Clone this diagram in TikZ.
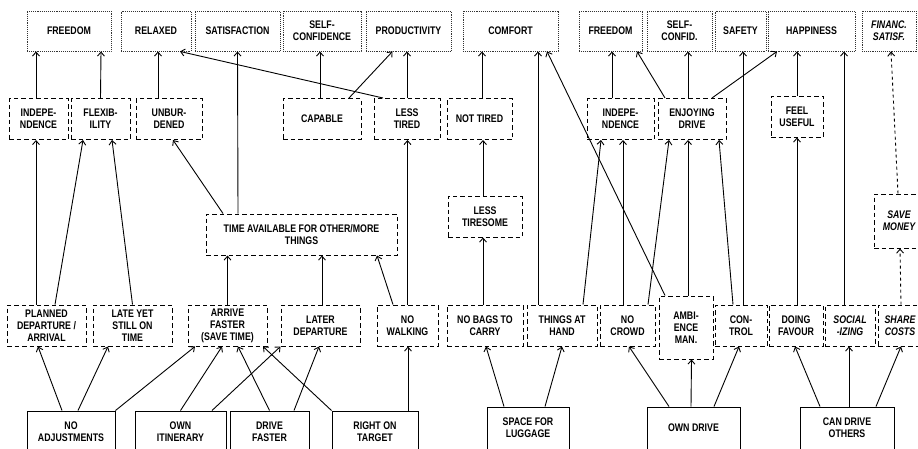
\documentclass[tikz,border=0pt]{standalone}
\usepackage{fontspec}
\setmainfont[FakeStretch=0.8]{Liberation Sans}
\usepackage{tikz}
\usetikzlibrary{arrows.meta,calc}
\usetikzlibrary{positioning}

\begin{document}
\begin{tikzpicture}[
  x=1pt, y=1pt,
  lbl/.style={align=center, inner sep=2pt, font=\fontsize{11}{12}\selectfont\bfseries},
  ital/.style={font=\fontsize{11}{12}\selectfont\bfseries\itshape},
  value/.style={lbl, draw=black!80, densely dotted, line width=0.9pt, minimum height=40pt},
  conseq/.style={lbl, draw, dash pattern=on 4.5pt off 3pt, line width=1pt, minimum height=41pt},
  attr/.style={lbl, draw, line width=1pt, minimum height=42pt},
  arr/.style={-{Straight Barb[length=4pt,width=7pt]}, line width=0.9pt},
  darr/.style={arr, dash pattern=on 3pt off 3pt},
  node distance=80pt
  ]
  \useasboundingbox (0,0) rectangle (918,-448);

  % Values (top row)
  \node[value, minimum width=84pt] (free1) at (69,-31) {FREEDOM};
  \node[value, minimum width=70pt, right of=free1, node distance=87pt] (relax) {RELAXED};
  \node[value, minimum width=85pt, right of=relax, node distance=81.5pt] (satis) {SATISFACTION};
  \node[value, minimum width=78pt, right of=satis, node distance=84.5pt] (selfc1) {SELF-\\CONFIDENCE};
  \node[value, minimum width=85pt, right of=selfc1, node distance=86.5pt] (prod) {PRODUCTIVITY};
  \node[value, minimum width=95pt, right of=prod, node distance=102pt] (comf) {COMFORT};
  \node[value, minimum width=63pt, right of=comf, node distance=100pt] (free2) {FREEDOM};
  \node[value, minimum width=65pt, right of=free2, node distance=69pt] (selfc2) {SELF-\\CONFID.};
  \node[value, minimum width=51pt, right of=selfc2, node distance=61pt] (safe) {SAFETY};
  \node[value, minimum width=87pt, right of=safe, node distance=71pt] (happy) {HAPPINESS};
  \node[value, ital, minimum width=54pt, right of=happy, node distance=77.5pt] (finsat) {FINANC.\\SATISF.};

  % Consequences
  \node[conseq, minimum width=59pt] (indep1) at (38.5,-119) {INDEPE-\\NDENCE};
  \node[conseq, minimum width=59pt, right of=indep1, node distance=62pt] (flex) {FLEXIB-\\ILITY};
  \node[conseq, minimum width=66pt, right of=flex, node distance=68.5pt] (unbur) {UNBUR-\\DENED};
  \node[conseq, minimum width=78pt, right of=unbur, node distance=153pt] (capab) {CAPABLE};
  \node[conseq, minimum width=66pt, right of=capab, node distance=85pt] (lesstired) {LESS\\TIRED};
  \node[conseq, minimum width=65pt, right of=lesstired, node distance=72.5pt] (nottired) {NOT TIRED};
  \node[conseq, minimum width=67pt, right of=nottired, node distance=141pt] (indep2) {INDEPE-\\NDENCE};
  \node[conseq, minimum width=68pt, right of=indep2, node distance=71.5pt] (enjoy) {ENJOYING\\DRIVE};
  \node[conseq, minimum width=52pt, right of=enjoy, node distance=105pt, yshift=2.5pt] (useful) {FEEL\\USEFUL};

  \node[conseq, minimum width=191pt] (timeav) at (301.5,-234.5) {TIME AVAILABLE FOR OTHER/MORE\\THINGS};
  \node[conseq, minimum width=74pt, right of=timeav, node distance=183.5pt, yshift=18pt] (tiresome) {LESS\\TIRESOME};
  \node[conseq, ital, minimum width=50pt, minimum height=54pt, right of=tiresome, node distance=414pt, yshift=-4.5pt] (savemon) {SAVE\\MONEY};

  \node[conseq, minimum width=79pt] (planned) at (46.5,-325.5) {PLANNED\\DEPARTURE /\\ARRIVAL};
  \node[conseq, minimum width=79pt, right of=planned, node distance=86pt] (lateyet) {LATE YET\\STILL ON\\TIME};
  \node[conseq, minimum width=79pt, right of=lateyet, node distance=95pt] (arrive) {ARRIVE\\FASTER\\(SAVE TIME)};
  \node[conseq, minimum width=79pt, right of=arrive, node distance=93pt] (laterdep) {LATER\\DEPARTURE};
  \node[conseq, minimum width=61pt, right of=laterdep, node distance=87pt] (nowalk) {NO\\WALKING};
  \node[conseq, minimum width=76pt, right of=nowalk, node distance=77.5pt] (nobags) {NO BAGS TO\\CARRY};
  \node[conseq, minimum width=70pt, right of=nobags, node distance=77pt] (things) {THINGS AT\\HAND};
  \node[conseq, minimum width=55pt, right of=things, node distance=65.5pt] (nocrowd) {NO\\CROWD};
  \node[conseq, minimum width=54pt, minimum height=63pt, right of=nocrowd, node distance=58.5pt, yshift=-2pt] (ambience) {AMBI-\\ENCE\\MAN.};
  \node[conseq, minimum width=52pt, right of=nocrowd, node distance=113.5pt] (control) {CON-\\TROL};
  \node[conseq, minimum width=54pt, right of=control, node distance=55pt] (favour) {DOING\\FAVOUR};
  \node[conseq, ital, minimum width=50pt, right of=favour, node distance=54pt] (social) {SOCIAL\\-IZING};
  \node[conseq, ital, minimum width=44pt, right of=social, node distance=50pt] (share) {SHARE\\COSTS};

  % Attributes
  \node[attr, minimum width=88pt] (noadj) at (71,-432) {NO\\ADJUSTMENTS};
  \node[attr, minimum width=91pt, right of=noadj, node distance=109.5pt] (ownitin) {OWN\\ITINERARY};
  \node[attr, minimum width=79pt, right of=ownitin, node distance=89pt] (drivefast) {DRIVE\\FASTER};
  \node[attr, minimum width=86pt, right of=drivefast, node distance=105.5pt] (target) {RIGHT ON\\TARGET};
  \node[attr, minimum width=82pt, right of=target, node distance=153pt, yshift=4pt] (luggage) {SPACE FOR\\LUGGAGE};
  \node[attr, minimum width=93pt, right of=luggage, node distance=165.5pt] (owndrive) {OWN DRIVE};
  \node[attr, minimum width=94pt, right of=owndrive, node distance=153.5pt] (candrive) {CAN DRIVE\\OTHERS};

  % Connections to values
  \draw[arr] ([xshift=-2.5pt]indep1.north) -- ([xshift=-33pt]free1.south);
  \draw[arr] (flex.north) -- ([xshift=32pt]free1.south);
  \draw[arr] ([xshift=-11pt]unbur.north) -- ([xshift=2pt]relax.south);
  \draw[arr] ([xshift=-24pt]lesstired.north) -- ([xshift=24pt]relax.south);
  \draw[arr] ([xshift=-63.5pt]timeav.north) -- (satis.south);
  \draw[arr] ([xshift=-2pt]capab.north) -- ([xshift=-2pt]selfc1.south);
  \draw[arr] ([xshift=27pt]capab.north) -- ([xshift=-16pt]prod.south);
  \draw[arr] (lesstired.north) -- ([xshift=-1.5pt]prod.south);
  \draw[arr] ([xshift=2.5pt]nottired.north) -- ([xshift=-28.5pt]comf.south);
  \draw[arr] ([xshift=-24pt]things.north) -- ([xshift=27.5pt]comf.south);
  \draw[arr] ([xshift=-21pt]ambience.north) -- ([xshift=36.5pt]comf.south);
  \draw[arr] ([xshift=-8.5pt]indep2.north) -- ([xshift=1.5pt]free2.south);
  \draw[arr] ([xshift=-27pt]enjoy.north) -- ([xshift=26.5pt]free2.south);
  \draw[arr] ([xshift=-4pt]enjoy.north) -- ([xshift=8.5pt]selfc2.south);
  \draw[arr] ([xshift=20pt]enjoy.north) -- ([xshift=-34.5pt]happy.south);
  \draw[arr] ([xshift=2pt]control.north) -- ([xshift=2.5pt]safe.south);
  \draw[arr] (useful.north) -- ([xshift=-14.5pt]happy.south);
  \draw[arr] ([xshift=-6pt]social.north) -- ([xshift=32.5pt]happy.south);
  \draw[darr] ([xshift=-1pt]savemon.north) -- ([xshift=2pt]finsat.south);

  % Connections between consequences
  \draw[arr] ([xshift=-10.5pt]planned.north) -- ([xshift=-2.5pt]indep1.south);
  \draw[arr] ([xshift=8.5pt]planned.north) -- ([xshift=-17.5pt]flex.south);
  \draw[arr] (lateyet.north) -- ([xshift=11.5pt]flex.south);
  \draw[arr] ([xshift=-78.5pt]timeav.north) -- ([xshift=4pt]unbur.south);
  \draw[arr] (arrive.north) -- ([xshift=-74pt]timeav.south);
  \draw[arr] ([xshift=1.5pt]laterdep.north) -- ([xshift=20.5pt]timeav.south);
  \draw[arr] ([xshift=-14.5pt]nowalk.north) -- ([xshift=75.5pt]timeav.south);
  \draw[arr] (nowalk.north) -- ([xshift=0.5pt]lesstired.south);
  \draw[arr] ([xshift=-2pt]tiresome.north) -- ([xshift=3.5pt]nottired.south);
  \draw[arr] ([xshift=-2pt]nobags.north) -- ([xshift=-2pt]tiresome.south);
  \draw[arr] ([xshift=21pt]things.north) -- ([xshift=-19.5pt]indep2.south);
  \draw[arr] ([xshift=-4.5pt]nocrowd.north) -- ([xshift=2.5pt]indep2.south);
  \draw[arr] ([xshift=20.5pt]nocrowd.north) -- ([xshift=-23pt]enjoy.south);
  \draw[arr] ([xshift=2pt]ambience.north) -- ([xshift=-4pt]enjoy.south);
  \draw[arr] ([xshift=-8pt]control.north) -- ([xshift=27pt]enjoy.south);
  \draw[arr] ([xshift=1pt]favour.north) -- (useful.south);
  \draw[darr] ([xshift=1pt]share.north) -- ([xshift=1pt]savemon.south);

  % Connections from attributes
  \draw[arr] ([xshift=-9pt]noadj.north) -- ([xshift=-8.5pt]planned.south);
  \draw[arr] ([xshift=7pt]noadj.north) -- ([xshift=-24.5pt]lateyet.south);
  \draw[arr] (noadj.north east) -- ([xshift=-32.5pt]arrive.south);
  \draw[arr] (ownitin.north) -- ([xshift=-5.5pt]arrive.south);
  \draw[arr] ([xshift=31.5pt]ownitin.north) -- (laterdep.south west);
  \draw[arr] (drivefast.north) -- ([xshift=10.5pt]arrive.south);
  \draw[arr] ([xshift=24.5pt]drivefast.north) -- ([xshift=-1.5pt]laterdep.south);
  \draw[arr] (target.north west) -- ([xshift=35.5pt]arrive.south);
  \draw[arr] ([xshift=33pt]target.north) -- ([xshift=0.5pt]nowalk.south);
  \draw[arr] ([xshift=-24pt]luggage.north) -- ([xshift=1pt]nobags.south);
  \draw[arr] ([xshift=17pt]luggage.north) -- (things.south);
  \draw[arr] ([xshift=-24.5pt]owndrive.north) -- ([xshift=1.5pt]nocrowd.south);
  \draw[arr] ([xshift=-2.5pt]owndrive.north) -- ([xshift=5.5pt]ambience.south);
  \draw[arr] ([xshift=20.5pt]owndrive.north) -- ([xshift=-2pt]control.south);
  \draw[arr] ([xshift=-27pt]candrive.north) -- ([xshift=-1pt]favour.south);
  \draw[arr] ([xshift=2pt]candrive.north) -- ([xshift=-1pt]social.south);
  \draw[arr] ([xshift=29pt]candrive.north) -- ([xshift=1pt]share.south);
\end{tikzpicture}
\end{document}
